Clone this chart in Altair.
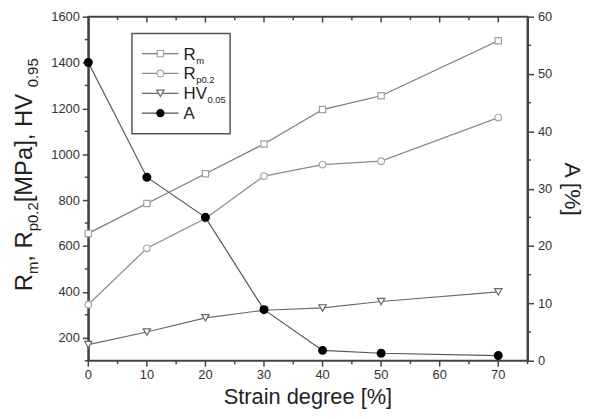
import altair as alt
import pandas as pd

# ---- data ----
strain = [0, 10, 20, 30, 40, 50, 70]
Rm = [655, 785, 915, 1045, 1195, 1255, 1495]
Rp02 = [345, 590, 720, 905, 955, 970, 1160]
HV = [170, 225, 287, 320, 330, 358, 400]
A = [52, 32, 25, 8.9, 1.8, 1.3, 0.9]

x_major = [0, 10, 20, 30, 40, 50, 60, 70]
x_minor = [5, 15, 25, 35, 45, 55, 65, 75]
top_major = [10, 20, 30, 40, 50, 60, 70]
left_major = [200, 400, 600, 800, 1000, 1200, 1400, 1600]
left_minor = [100, 300, 500, 700, 900, 1100, 1300, 1500]
right_major = [0, 10, 20, 30, 40, 50, 60]
right_minor = [5, 15, 25, 35, 45, 55]

df = pd.DataFrame({"strain": strain, "Rm": Rm, "Rp": Rp02, "HV": HV, "A": A})

FONT = "Liberation Sans"
AX = "#444444"
W, H = 443, 347

xscale = alt.Scale(domain=[0, 75], nice=False, zero=False)
yL = alt.Scale(domain=[100, 1600], nice=False, zero=False)
yR = alt.Scale(domain=[0, 60], nice=False, zero=False)

common = dict(labelFont=FONT, labelFontSize=13, labelColor="#333333", format="d",
              domainColor=AX, domainWidth=2, tickColor=AX, tickWidth=1.5, tickSize=6,
              grid=False)

yL_axis = alt.Axis(values=left_major, title=None, labelPadding=3, **common)
yR_axis = alt.Axis(
    orient="right", values=right_major, title="A [%]", titleFontSize=23, titleFont=FONT,
    titleFontWeight="normal", titleColor="#222222", titlePadding=8, labelPadding=4, **common)

base = alt.Chart(df)
X = alt.X("strain:Q", scale=xscale, axis=None)

layers = []
layers.append(base.mark_line(color="#7a7a7a", strokeWidth=1.2).encode(
    x=X, y=alt.Y("Rm:Q", scale=yL, axis=yL_axis)))
layers.append(base.mark_line(color="#555555", strokeWidth=1.2).encode(
    x=X, y=alt.Y("A:Q", scale=yR, axis=yR_axis)))
for field, lc in [("Rp", "#8a8a8a"), ("HV", "#6a6a6a")]:
    layers.append(base.mark_line(color=lc, strokeWidth=1.2).encode(
        x=X, y=alt.Y(f"{field}:Q", scale=yL, axis=None)))

pts = [("Rm", "square", "#a0a0a0", "white", 40),
       ("Rp", "circle", "#a8a8a8", "white", 45),
       ("HV", "triangle-down", "#666666", "white", 55)]
for field, shp, stc, fil, sz in pts:
    layers.append(base.mark_point(shape=shp, stroke=stc, fill=fil, filled=False, opacity=1,
                                  strokeWidth=1.2, size=sz).encode(
        x=X, y=alt.Y(f"{field}:Q", scale=yL, axis=None)))
layers.append(base.mark_point(shape="circle", fill="black", stroke="black", filled=True,
                              opacity=1, size=50).encode(
    x=X, y=alt.Y("A:Q", scale=yR, axis=None)))


def xticks(vals, y0, y1):
    return alt.Chart(pd.DataFrame({"t": vals})).mark_rule(color=AX, strokeWidth=1.5).encode(
        x=alt.X("t:Q", scale=xscale, axis=None), y=alt.value(y0), y2=alt.value(y1))


def yticks(vals, scale, x0, x1):
    return alt.Chart(pd.DataFrame({"t": vals})).mark_rule(color=AX, strokeWidth=1.5).encode(
        y=alt.Y("t:Q", scale=scale, axis=None), x=alt.value(x0), x2=alt.value(x1))


layers += [
    xticks(top_major, 0, 6), xticks(x_minor[:-1], 0, 3.5),
    xticks(x_major, H, H + 6), xticks(x_minor, H, H + 3.5),
    yticks(left_minor, yL, -3.5, 0),
    yticks(right_minor, yR, W, W + 3.5),
]

# bottom axis labels (drawn as text through the x scale)
layers.append(alt.Chart(pd.DataFrame({"t": x_major})).mark_text(
    font=FONT, fontSize=13, color="#333333", align="center", baseline="top").encode(
    x=alt.X("t:Q", scale=xscale, axis=None), y=alt.value(H + 8),
    text=alt.Text("t:Q", format="d")))

one = pd.DataFrame({"k": [0]})


def txt(s, x, y, size, angle=0, color="#222222", align="left"):
    kw = dict(font=FONT, fontSize=size, align=align, baseline="alphabetic", color=color)
    if angle:
        kw["angle"] = angle
    return alt.Chart(one).mark_text(**kw).encode(
        x=alt.value(x), y=alt.value(y), text=alt.value(s))


layers.append(txt("Strain degree [%]", W / 2, 391, 22, align="center"))

# ---- left title with subscripts ----
AW = {"R": .722, "m": .833, ",": .278, " ": .278, "\u00a0": .278, "p": .556, ".": .278,
      "[": .278, "]": .278, "M": .833, "P": .667, "a": .556, "H": .722, "V": .667}
for d in "0123456789":
    AW[d] = .556


def tw(s, size):
    return sum(AW[c] for c in s) * size


segs = [("R", 24, False), ("m", 15, True), (",\u00a0R", 24, False), ("p0.2", 15, True),
        ("\u00a0[MPa],\u00a0HV", 24, False), ("0.95", 15, True)]
total = sum(tw(s, z) for s, z, _ in segs)
pos = (174.5 - 15) + total / 2
for s, z, sub in segs:
    layers.append(txt(s, -51 if sub else -56.5, pos, z, angle=270))
    pos -= tw(s, z)

# ---- legend ----
layers.append(alt.Chart(one).mark_rect(fill="white", stroke="#555555", strokeWidth=1.5).encode(
    x=alt.value(44), x2=alt.value(143), y=alt.value(17), y2=alt.value(118)))
entries = [
    ("R", "m", "square", "#a0a0a0", "white", 40, "#7a7a7a", 4),
    ("R", "p0.2", "circle", "#a8a8a8", "white", 45, "#8a8a8a", 4),
    ("HV", "0.05", "triangle-down", "#666666", "white", 55, "#6a6a6a", 4),
    ("A", "", "circle", "black", "black", 50, "#555555", 0),
]
for i, (main, sub, shp, stc, fil, sz, lc, so) in enumerate(entries):
    yy = 37.3 + 20 * i
    layers.append(alt.Chart(one).mark_rule(color=lc, strokeWidth=1.2).encode(
        x=alt.value(54), x2=alt.value(91), y=alt.value(yy)))
    layers.append(alt.Chart(one).mark_point(shape=shp, stroke=stc, fill=fil, opacity=1,
                                            filled=(fil == "black"), strokeWidth=1.2,
                                            size=sz).encode(
        x=alt.value(72.7), y=alt.value(yy)))
    layers.append(txt(main, 96, yy + 6, 17))
    if sub:
        layers.append(txt(sub, 96 + tw(main, 17) + 0.5, yy + 6 + so, 9.5))

chart = alt.layer(*layers).resolve_scale(y="independent").properties(
    width=W, height=H,
    padding={"left": 81, "top": 7, "right": 62, "bottom": 48},
    autosize=alt.AutoSizeParams(type="none"),
    background="white",
).configure_view(stroke=AX, strokeWidth=2)

chart.save("out.html", embed_options={"renderer": "svg", "actions": False})
